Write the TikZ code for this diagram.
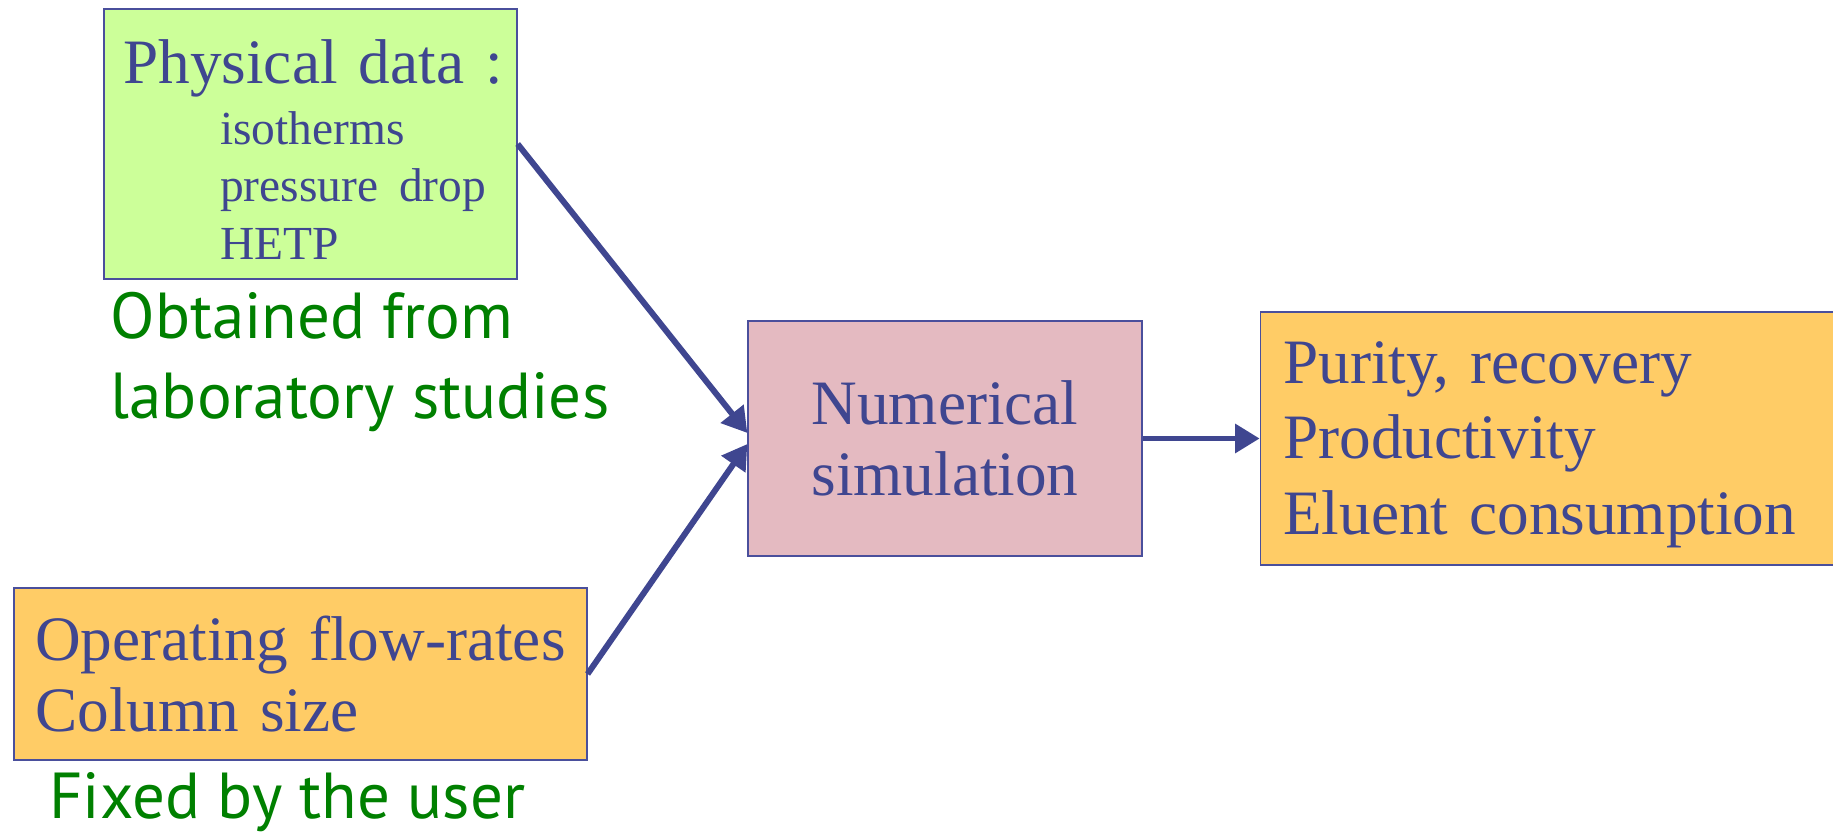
\documentclass[tikz,border=0pt]{standalone}
\usepackage{fontspec}
\setmainfont{Liberation Serif}
\newfontfamily\notefont{PT Sans}
\usetikzlibrary{arrows.meta, positioning, calc}
\definecolor{ink}{HTML}{3F4690}
\definecolor{edgec}{HTML}{4A4F9C}
\definecolor{dataFill}{HTML}{CCFF99}
\definecolor{userFill}{HTML}{FFCC66}
\definecolor{simFill}{HTML}{E4BAC1}
\definecolor{noteGreen}{HTML}{008000}
\tikzset{
  box/.style={draw=edgec, line width=0.8pt, text=ink, align=left, font=\fontsize{36}{43}\selectfont,
    inner ysep=0pt},
  note/.style={font=\notefont\fontsize{37}{45.5}\selectfont, text=noteGreen, align=left, inner sep=0pt},
  arr/.style={-{Triangle[length=14pt, width=16pt]}, draw=ink, line width=3.4pt},
}
\begin{document}
\begin{tikzpicture}[x=0.02cm, y=0.02cm]
  \useasboundingbox (0,0) rectangle (1833,835);
  % what goes in
  \node[box, fill=dataFill, text width=213pt, inner xsep=11pt, minimum height=153.6pt] (data) at (310.5,691)
    {\rule{0pt}{31pt}\mbox{Physical data :}\\[2.5pt]
     \fontsize{27}{32.5}\selectfont\hspace*{55pt}isotherms\\
     \hspace*{55pt}pressure drop\\
     \hspace*{55pt}HETP\par};
  \node[note, anchor=north west] (lab) at ($(data.south west)+(7,-12)$) {Obtained from\\laboratory studies};
  \node[box, fill=userFill, text width=302pt, inner xsep=12pt, minimum height=97.9pt] (user) at (300.5,161)
    {Operating flow-rates\\[-2.5pt]Column size};
  \node[note, anchor=base west] (fixed) at (49,16) {Fixed by the user};
  % the model
  \node[box, fill=simFill, align=center, minimum width=224.2pt, minimum height=133.7pt] (sim) at (945,396.5)
    {Numerical\\[-2.5pt]simulation};
  % what comes out
  \node[box, fill=userFill, text width=307pt, inner xsep=13pt, minimum height=144pt, right=66.6pt of sim] (out)
    {\rule{0pt}{31pt}Purity, recovery\\Productivity\\Eluent consumption};
  % arrows
  \draw[arr] (data.east) -- ($(sim.west)+(0,5.5)$);
  \draw[arr] (user.east) -- ($(sim.west)+(0,-5.5)$);
  \draw[arr] (sim.east) -- (out.west);
\end{tikzpicture}
\end{document}
